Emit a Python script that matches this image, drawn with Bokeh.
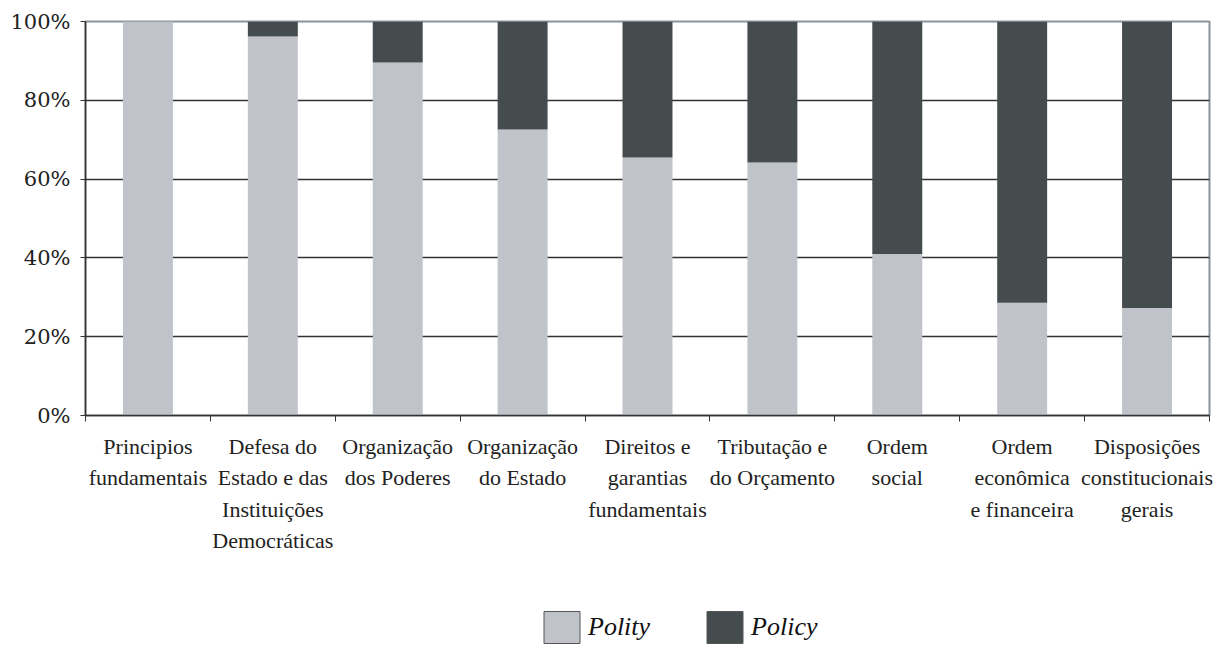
from bokeh.plotting import figure
from bokeh.layouts import column
from bokeh.models import (Range1d, FixedTicker, Legend, LegendItem, ColumnDataSource)
from bokeh.embed import file_html
from bokeh.resources import INLINE

categories = [
    "Principios\nfundamentais",
    "Defesa do\nEstado e das\nInstituições\nDemocráticas",
    "Organização\ndos Poderes",
    "Organização\ndo Estado",
    "Direitos e\ngarantias\nfundamentais",
    "Tributação e\ndo Orçamento",
    "Ordem\nsocial",
    "Ordem\neconômica\ne financeira",
    "Disposições\nconstitucionais\ngerais",
]
polity = [100.0, 96.2, 89.6, 72.6, 65.5, 64.2, 41.0, 28.6, 27.3]
policy = [0.0, 3.8, 10.4, 27.4, 34.5, 35.8, 59.0, 71.4, 72.7]
y_ticks = [0, 20, 40, 60, 80, 100]
y_tick_labels = ["0%", "20%", "40%", "60%", "80%", "100%"]
series_names = ["Polity", "Policy"]

POLITY_C = "#C0C3CA"
POLICY_C = "#454C4E"
SERIF = "'Liberation Serif', 'DejaVu Serif', serif"
SERIF_WIDE = "'DejaVu Serif', serif"

xc = [i + 0.5 for i in range(len(categories))]
src = ColumnDataSource(dict(x=xc, polity=polity, policy=policy))

p = figure(width=1213, height=600, output_backend="svg", toolbar_location=None,
           x_range=Range1d(0, len(categories)), y_range=Range1d(0, 100),
           min_border_left=85, min_border_top=21, min_border_right=4,
           min_border_bottom=185)
p.background_fill_color = "white"
p.border_fill_color = "white"
p.outline_line_color = "#8A949C"
p.outline_line_width = 2

p.vbar_stack(["polity", "policy"], x="x", width=0.4, source=src,
             fill_color=[POLITY_C, POLICY_C], line_color=None)

# grid
p.xgrid.visible = False
p.ygrid.ticker = FixedTicker(ticks=[20, 40, 60, 80])
p.ygrid.grid_line_color = "#333333"
p.ygrid.grid_line_width = 1.5

# y axis
p.yaxis.ticker = FixedTicker(ticks=y_ticks)
p.yaxis.major_label_overrides = {t: l for t, l in zip(y_ticks, y_tick_labels)}
p.yaxis.major_label_text_font = SERIF_WIDE
p.yaxis.major_label_text_font_size = "21px"
p.yaxis.major_label_text_color = "#222222"
p.yaxis.axis_line_color = "#333333"
p.yaxis.axis_line_width = 1.5
p.yaxis.major_tick_line_color = "#333333"
p.yaxis.major_tick_out = 5
p.yaxis.major_tick_in = 0
p.yaxis.minor_tick_line_color = None
p.yaxis.major_label_standoff = 10

# x axis
p.xaxis.ticker = FixedTicker(ticks=xc, minor_ticks=list(range(len(categories) + 1)))
p.xaxis.major_label_overrides = {x: c for x, c in zip(xc, categories)}
p.xaxis.major_label_text_font = SERIF
p.xaxis.major_label_text_font_size = "22px"
p.xaxis.major_label_text_color = "#222222"
p.xaxis.major_label_text_line_height = 1.26
p.xaxis.axis_line_color = "#333333"
p.xaxis.axis_line_width = 1.5
p.xaxis.major_tick_line_color = None
p.xaxis.major_tick_out = 0
p.xaxis.major_tick_in = 0
p.xaxis.minor_tick_line_color = "#333333"
p.xaxis.minor_tick_out = 6
p.xaxis.minor_tick_in = 0
p.xaxis.major_label_standoff = 12

# legend strip (separate figure so the legend is not clipped)
q = figure(width=1213, height=47, output_backend="svg", toolbar_location=None,
           x_axis_location=None, y_axis_location=None, min_border=0,
           x_range=Range1d(0, 1), y_range=Range1d(0, 1))
q.grid.visible = False
q.outline_line_color = None
q.background_fill_color = "white"
q.border_fill_color = "white"
hidden = ColumnDataSource(dict(x=[float("nan")], top=[float("nan")]))
d1 = q.vbar(x="x", top="top", bottom=0, width=0.4, source=hidden,
            fill_color=POLITY_C, line_color="#555555", line_width=1)
d2 = q.vbar(x="x", top="top", bottom=0, width=0.4, source=hidden,
            fill_color=POLICY_C, line_color="#555555", line_width=1)
legend = Legend(items=[LegendItem(label=series_names[0], renderers=[d1]),
                       LegendItem(label=series_names[1], renderers=[d2])],
                orientation="horizontal", location=(454, 0),
                glyph_width=45, glyph_height=40, label_standoff=4, spacing=52,
                padding=0, margin=0,
                label_text_font=SERIF, label_text_font_style="italic",
                label_text_font_size="26px", label_text_color="#111111",
                label_text_baseline="bottom",
                border_line_alpha=0, background_fill_alpha=0)
q.add_layout(legend, "center")

layout = column(p, q, spacing=0)
open("out.html", "w").write(file_html(layout, INLINE))
